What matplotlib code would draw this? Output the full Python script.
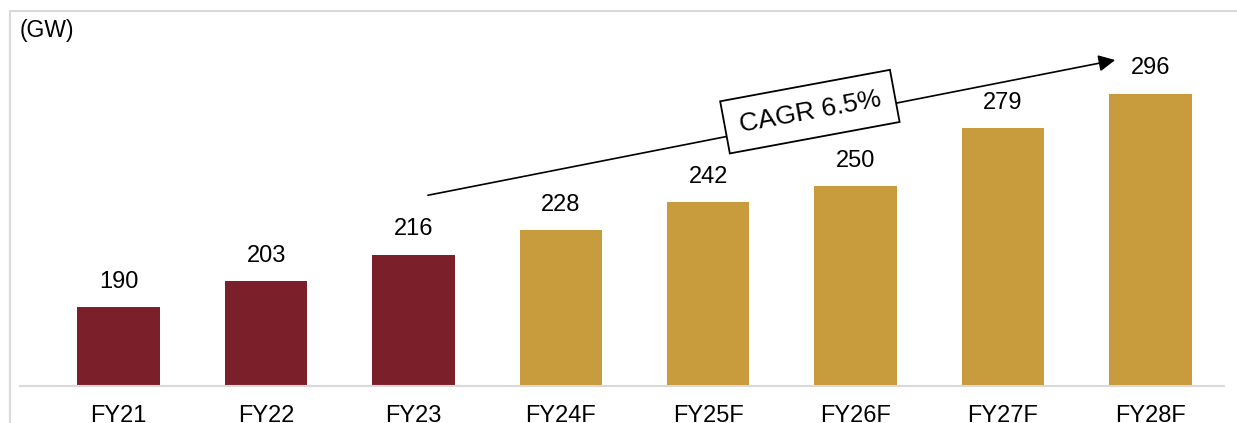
import matplotlib.pyplot as plt
from matplotlib.patches import Rectangle

plt.rcParams['font.family'] = ['Liberation Sans', 'DejaVu Sans']

years = ['FY21', 'FY22', 'FY23', 'FY24F', 'FY25F', 'FY26F', 'FY27F', 'FY28F']
demand = [190, 203, 216, 228, 242, 250, 279, 296]
actual_count = 3  # first three are actuals, rest forecast
cagr_label = 'CAGR 6.5%'

col_actual = '#7B1F2B'
col_forecast = '#C89B3C'

fig = plt.figure(figsize=(12.37, 4.23), dpi=100)
# light grey outer frame
fig.patches.append(Rectangle((10 / 1237, -0.1), 1.2, 1.1 - 11 / 423, transform=fig.transFigure,
                             fill=False, edgecolor='#d9d9d9', linewidth=1.5))

ax = fig.add_axes([20 / 1237, 1 - 386 / 423, (1224 - 20) / 1237, (386 - 11) / 423])

colors = [col_actual if i < actual_count else col_forecast for i in range(len(years))]
x = list(range(len(years)))
bars = ax.bar(x, demand, width=0.56, color=colors, bottom=0)

for xi, v in zip(x, demand):
    ax.text(xi, v + 7, str(v), ha='center', va='bottom', fontsize=17)

ax.set_ylim(150.7, 337)
ax.set_xlim(-0.67, 7.5)
ax.set_xticks(x)
ax.set_xticklabels(years, fontsize=17)
ax.tick_params(axis='x', length=0, pad=14)
ax.set_yticks([])
for s in ['top', 'right', 'left']:
    ax.spines[s].set_visible(False)
ax.spines['bottom'].set_color('#d9d9d9')
ax.spines['bottom'].set_linewidth(1.5)

fig.text(20 / 1237, 1 - 31 / 423, '(GW)', fontsize=16.5, ha='left', va='center')

# CAGR trend arrow
ax.annotate('', xy=(6.78, 312.9), xytext=(2.08, 245.2),
            arrowprops=dict(arrowstyle='-|>', color='black', lw=1.2, mutation_scale=25))
ax.text(4.69, 287, cagr_label, fontsize=19, rotation=10.5, rotation_mode='anchor',
        ha='center', va='center',
        bbox=dict(boxstyle='square,pad=0.55', facecolor='white', edgecolor='black', linewidth=1.3))

fig.savefig('out.png', dpi=100)
